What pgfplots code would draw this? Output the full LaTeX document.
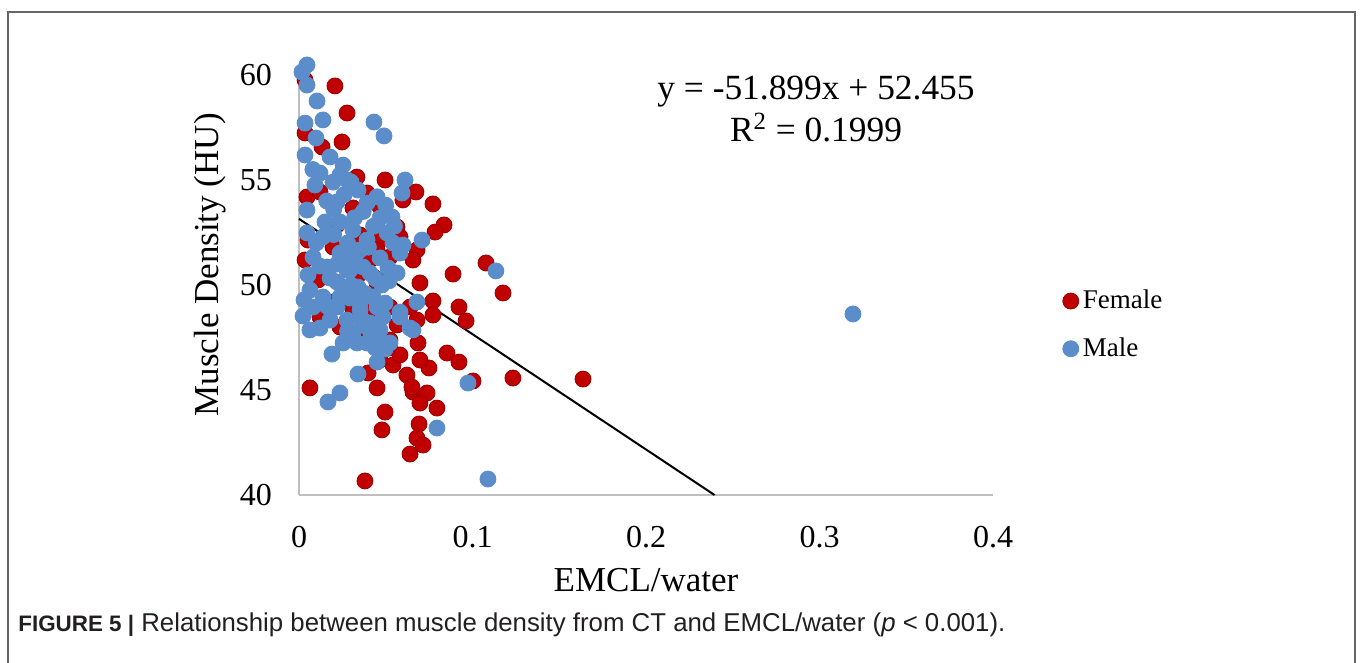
\documentclass[border=0pt]{standalone}
\usepackage{fontspec}
\setmainfont{Liberation Serif}
\newfontfamily\capfont{Liberation Sans}
\usepackage{pgfplots}
\pgfplotsset{compat=1.18}
\definecolor{Cfem}{HTML}{C00000}
\definecolor{Cmale}{HTML}{5B8DCB}
\definecolor{Caxis}{HTML}{BFBFBF}
\definecolor{Cframe}{HTML}{666666}
\definecolor{Ccap}{HTML}{231F20}

\pgfplotstableread{
x y
0.0035 59.76
0.0207 59.48
0.0277 58.19
0.0035 57.24
0.0248 56.81
0.0133 56.57
0.0496 55.00
0.0334 55.14
0.0674 54.43
0.0392 54.38
0.0599 54.05
0.0772 53.86
0.0836 52.86
0.0784 52.52
0.0467 53.71
0.0565 52.76
0.0582 52.29
0.0680 51.67
0.0657 51.19
0.0888 50.52
0.1078 51.05
0.1176 49.62
0.0697 50.10
0.0772 49.24
0.0772 48.57
0.0922 48.95
0.0963 48.29
0.0640 48.95
0.0680 48.33
0.0686 47.24
0.0853 46.76
0.0922 46.33
0.0749 46.05
0.0622 45.71
0.0657 44.90
0.0738 44.86
0.0697 44.38
0.0795 44.14
0.0496 43.95
0.0478 43.10
0.0692 43.38
0.0680 42.71
0.0715 42.38
0.0640 41.95
0.1233 45.57
0.1637 45.52
0.1003 45.43
0.0063 45.10
0.0380 40.67
0.0450 45.10
0.0398 45.81
0.0524 47.00
0.0697 46.43
0.0651 45.14
0.0542 46.19
0.0582 46.67
0.0467 46.43
0.0046 54.19
0.0121 54.43
0.0311 53.67
0.0219 52.86
0.0352 52.38
0.0467 52.14
0.0409 51.19
0.0305 51.90
0.0450 51.67
0.0524 51.33
0.0196 51.81
0.0450 50.10
0.0334 50.38
0.0409 48.81
0.0236 49.14
0.0110 50.24
0.0196 49.19
0.0524 48.95
0.0311 48.67
0.0236 48.00
0.0121 48.48
0.0450 47.95
0.0565 48.10
0.0524 47.38
0.0334 47.38
0.0484 47.05
0.0052 52.14
0.0035 51.19
}\female

\pgfplotstableread{
x y
0.0046 60.48
0.0017 60.14
0.0046 59.52
0.0104 58.76
0.0138 57.86
0.0432 57.76
0.0490 57.10
0.0035 57.71
0.0098 57.00
0.0035 56.19
0.0179 56.10
0.0254 55.71
0.0121 55.33
0.0196 54.90
0.0277 55.00
0.0236 55.24
0.0092 54.76
0.0340 54.52
0.0611 55.00
0.0594 54.38
0.0046 53.57
0.0219 53.95
0.0392 53.90
0.0467 53.19
0.0536 53.24
0.0236 53.00
0.0311 52.62
0.0046 52.48
0.0138 52.29
0.0392 52.14
0.0507 52.48
0.0542 52.00
0.0709 52.14
0.0081 51.33
0.0236 51.52
0.0352 51.67
0.0467 51.29
0.0582 51.52
0.0161 50.86
0.0294 50.71
0.0409 50.57
0.0513 50.81
0.0052 50.48
0.0219 50.14
0.0340 49.90
0.0478 50.00
0.0565 50.57
0.0063 49.76
0.0138 49.43
0.0294 49.38
0.0427 49.43
0.0496 49.14
0.0219 48.95
0.0081 48.95
0.0352 48.81
0.0680 49.19
0.0179 48.33
0.0277 48.33
0.0409 48.19
0.0484 48.48
0.0582 48.48
0.0121 47.95
0.0311 47.76
0.0450 47.62
0.0640 47.95
0.0392 47.24
0.0524 47.24
0.0254 47.24
0.0179 50.33
0.0277 50.71
0.0369 50.86
0.0236 49.43
0.0352 49.14
0.0450 48.95
0.0582 48.71
0.0657 47.86
0.0392 48.00
0.0467 47.86
0.0334 47.24
0.0409 47.38
0.0190 46.71
0.0450 46.33
0.0496 46.95
0.0340 45.76
0.0236 44.86
0.0167 44.43
0.0795 43.19
0.0974 45.33
0.1135 50.67
0.1089 40.76
0.3193 48.62
0.0029 49.29
0.0023 48.52
0.0063 47.86
0.0150 53.00
0.0200 52.40
0.0280 52.00
0.0320 53.20
0.0370 53.50
0.0430 52.80
0.0260 54.30
0.0300 54.90
0.0220 51.00
0.0300 51.20
0.0400 51.80
0.0440 50.30
0.0380 49.60
0.0300 50.00
0.0250 49.90
0.0120 50.90
0.0100 52.00
0.0160 54.00
0.0080 55.50
0.0450 54.20
0.0500 53.80
0.0550 52.80
0.0600 51.90
0.0520 50.20
0.0360 48.40
0.0280 47.80
0.0160 49.00
0.0440 47.00
0.0200 53.60
0.0330 51.50
}\male

\begin{document}
\begin{tikzpicture}
\path[use as bounding box] (-149.5bp,-84bp) rectangle (530.5bp,247.5bp);
\draw[Cframe, line width=1bp] (-145.5bp,-84bp) -- (-145.5bp,241.5bp) -- (528bp,241.5bp) -- (528bp,-84bp);
\node[anchor=west, inner sep=0pt, text=Ccap, font=\capfont\fontsize{12.9bp}{14bp}\selectfont]
  at (-140.5bp,-65bp) {{\fontsize{11.2bp}{14bp}\selectfont\textbf{FIGURE 5 |}} Relationship between muscle density from CT and EMCL/water (\textit{p} < 0.001).};
\begin{axis}[
  scale only axis,
  width=347bp, height=210bp,
  xmin=0, xmax=0.4, ymin=40, ymax=60,
  axis lines*=left,
  axis line style={Caxis, line width=1bp},
  xtick={0,0.1,0.2,0.3,0.4},
  ytick={40,45,50,55,60},
  major tick length=0pt,
  /pgf/number format/assume math mode=true,
  tick label style={font=\fontsize{16bp}{18bp}\selectfont},
  xticklabel style={yshift=-12bp},
  yticklabel style={xshift=-10bp},
  xlabel={EMCL/water},
  ylabel={Muscle Density (HU)},
  label style={font=\fontsize{17.5bp}{20bp}\selectfont},
  xlabel style={at={(axis description cs:0.5,-0.202)}, anchor=center},
  ylabel style={at={(axis description cs:-0.128,0.548)}, anchor=center},
  clip=false,
  legend style={at={(axis description cs:1.100,0.405)}, anchor=west, draw=none, fill=none,
    font=\fontsize{13.5bp}{15bp}\selectfont, row sep=9bp, inner sep=0pt},
  legend cell align=left,
  legend image code/.code={\draw[#1] plot coordinates {(4bp,0bp)};},
]
\addplot[only marks, mark=*, mark size=4bp, mark options={fill=Cfem, draw=Cfem!80!black, line width=0.4bp}] table {\female};
\addlegendentry{Female}
\addplot[only marks, mark=*, mark size=4bp, mark options={fill=Cmale, draw=Cmale, line width=0.4bp}] table {\male};
\addlegendentry{Male}
\addplot[black, line width=1bp, forget plot] coordinates {(0,53.15) (0.2395,40)};
\node[align=center, font=\fontsize{17.7bp}{21bp}\selectfont] at (axis cs:0.298,58.38)
  {y = -51.899x + 52.455\\R\textsuperscript{2} = 0.1999};
\end{axis}
\end{tikzpicture}
\end{document}
